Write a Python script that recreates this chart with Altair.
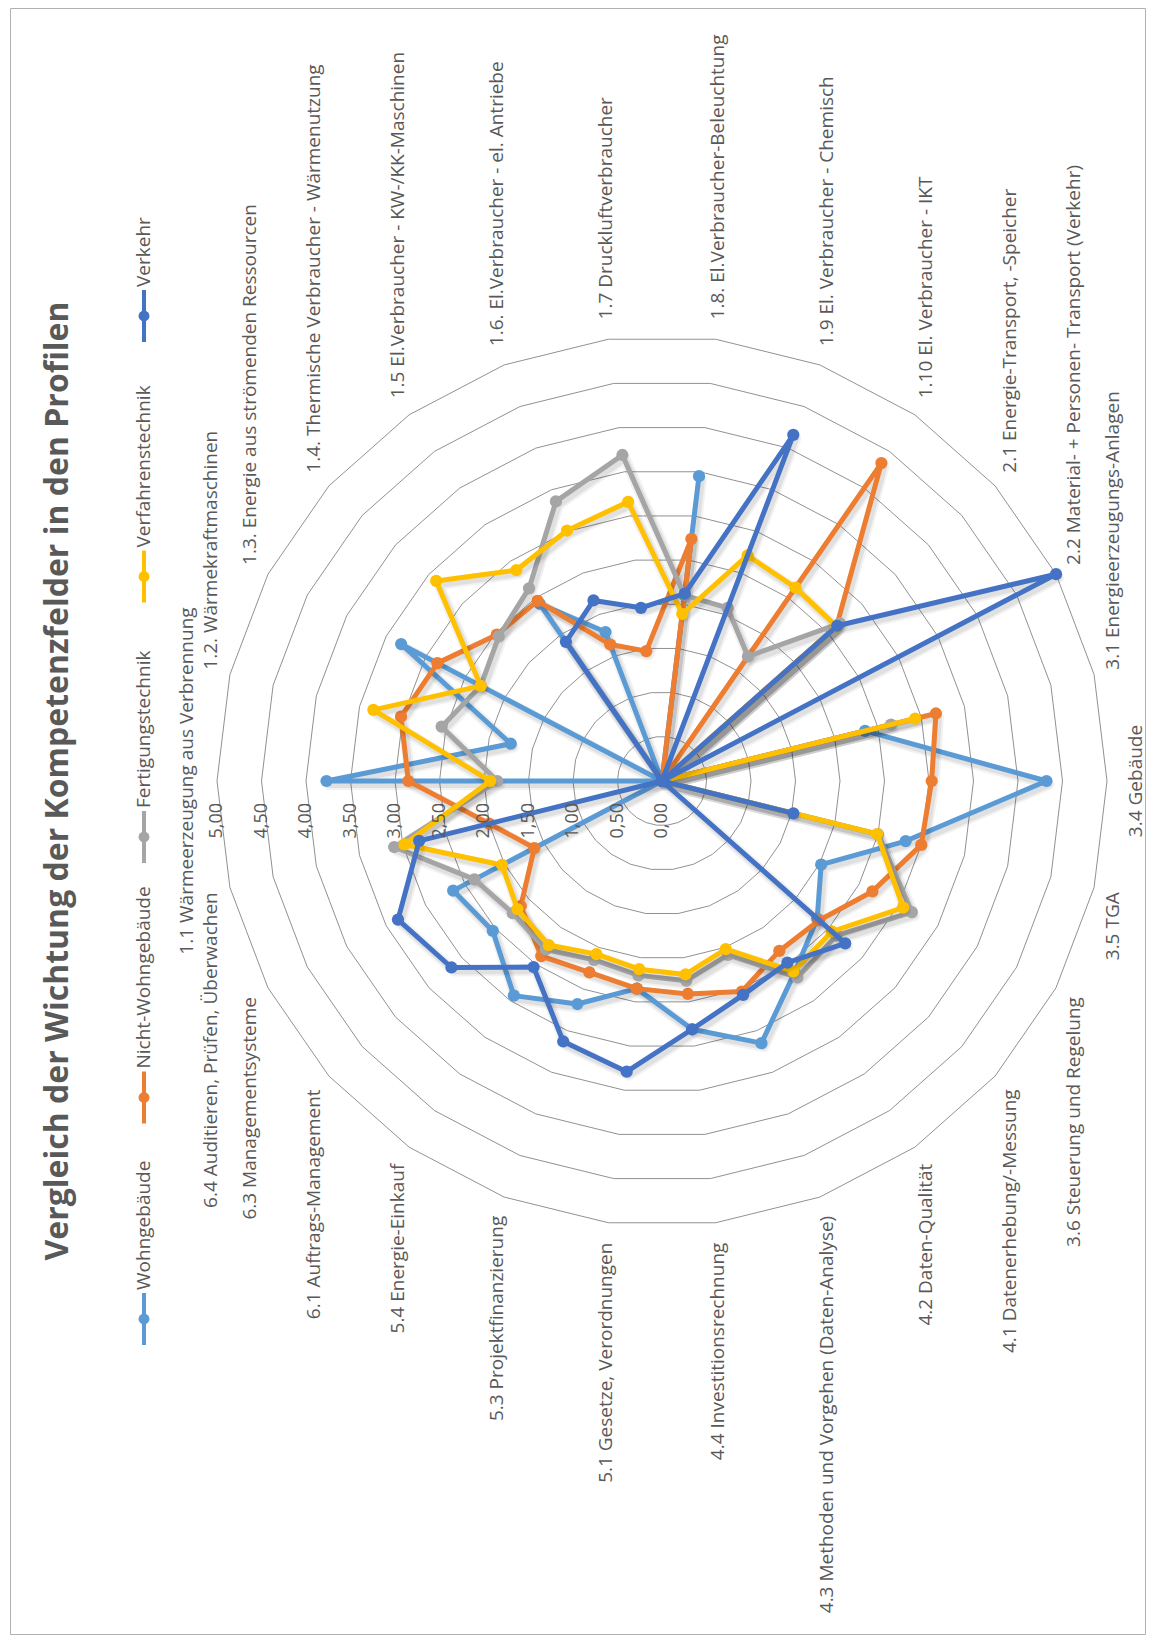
import altair as alt
import pandas as pd

# ---------------- data ----------------
categories = [
    "1.1 Wärmeerzeugung aus Verbrennung",
    "1.2. Wärmekraftmaschinen",
    "1.3. Energie aus strömenden Ressourcen",
    "1.4. Thermische Verbraucher - Wärmenutzung",
    "1.5 El.Verbraucher - KW-/KK-Maschinen",
    "1.6. El.Verbraucher - el. Antriebe",
    "1.7 Druckluftverbraucher",
    "1.8. El.Verbraucher-Beleuchtung",
    "1.9 El. Verbraucher - Chemisch",
    "1.10 El. Verbraucher - IKT",
    "2.1 Energie-Transport, -Speicher",
    "2.2 Material- + Personen- Transport (Verkehr)",
    "3.1 Energieerzeugungs-Anlagen",
    "3.4 Gebäude",
    "3.5 TGA",
    "3.6 Steuerung und Regelung",
    "4.1 Datenerhebung/-Messung",
    "4.2 Daten-Qualität",
    "4.3 Methoden und Vorgehen (Daten-Analyse)",
    "4.4 Investitionsrechnung",
    "5.1 Gesetze, Verordnungen",
    "5.3 Projektfinanzierung",
    "5.4 Energie-Einkauf",
    "6.1 Auftrags-Management",
    "6.3 Managementsysteme",
    "6.4 Auditieren, Prüfen, Überwachen",
]

series_names = ["Wohngebäude", "Nicht-Wohngebäude", "Fertigungstechnik",
                "Verfahrenstechnik", "Verkehr"]
series_colors = ["#5B9BD5", "#ED7D31", "#A5A5A5", "#FFC000", "#4472C4"]

wohngebaeude = [3.77, 1.75, 3.31, 0.00, 2.42, 1.79, 0.00, 3.45, 0.00, 0.00, 0.00, 0.00, 2.35,
                4.32, 2.82, 2.02, 2.33, 2.62, 3.15, 2.81, 2.35, 2.68, 2.93, 2.54, 2.65, 0.00]
nicht_wohngebaeude = [2.85, 3.02, 2.85, 2.48, 2.46, 1.64, 1.47, 2.74, 0.00, 4.34, 2.62, 0.00, 3.17,
                      3.03, 3.00, 2.67, 2.36, 2.32, 2.53, 2.41, 2.35, 2.30, 2.39, 2.12, 1.62, 2.00]
fertigungstechnik = [1.85, 2.55, 2.30, 2.45, 2.63, 3.36, 3.69, 2.10, 2.08, 1.70, 2.67, 0.00, 2.65,
                     0.00, 2.50, 3.17, 2.62, 2.68, 2.09, 2.26, 2.20, 2.15, 2.30, 2.24, 2.38, 3.10]
verfahrenstechnik = [1.93, 3.34, 2.30, 3.39, 2.88, 3.01, 3.16, 1.89, 2.71, 2.64, 2.62, 0.00, 2.93,
                     0.00, 2.49, 3.06, 2.55, 2.60, 2.02, 2.19, 2.13, 2.08, 2.24, 2.17, 2.03, 2.98]
verkehr = [0.00, 0.00, 0.00, 0.00, 1.90, 2.17, 1.96, 2.12, 4.16, 0.00, 2.63, 5.00, 0.00,
           0.00, 1.52, 0.00, 2.75, 2.48, 2.57, 2.81, 3.29, 3.13, 2.54, 3.16, 3.35, 2.81]
series_values = [wohngebaeude, nicht_wohngebaeude, fertigungstechnik, verfahrenstechnik, verkehr]

tick_values = [0.0, 0.5, 1.0, 1.5, 2.0, 2.5, 3.0, 3.5, 4.0, 4.5, 5.0]
tick_labels = ["0,00", "0,50", "1,00", "1,50", "2,00", "2,50", "3,00", "3,50", "4,00", "4,50", "5,00"]

title_text = "Vergleich der Wichtung der Kompetenzfelder in den Profilen"

# ---------------- layout ----------------
PAD = {"left": 10, "top": 8, "right": 10, "bottom": 5}
W, H = 1135, 1626
CX, CY = 662, 781            # page position of the radar centre
PPU = 89.0                   # pixels per value unit
R_MAX = 5.0
N = len(categories)
FONT = "Open Sans"
TXT = "#595959"

x_dom = [(PAD["left"] - CX) / PPU, (PAD["left"] + W - CX) / PPU]
y_dom = [(CY - (PAD["top"] + H)) / PPU, (CY - PAD["top"]) / PPU]
xs = alt.Scale(domain=x_dom, nice=False, zero=False)
ys = alt.Scale(domain=y_dom, nice=False, zero=False)


def X(f):
    return alt.X(f, type="quantitative", scale=xs, axis=None)


def Y(f):
    return alt.Y(f, type="quantitative", scale=ys, axis=None)


ANG = f"datum.cat * 2 * PI / {N}"

# ---------------- grid rings ----------------
ring_rows = [{"level": lv, "k": k, "cat": k % N}
             for lv in tick_values[1:] for k in range(N + 1)]
rings = alt.Chart(pd.DataFrame(ring_rows)).transform_calculate(
    px=f"-datum.level * cos({ANG})", py=f"datum.level * sin({ANG})"
).mark_line(color="#858585", strokeWidth=0.9).encode(
    x=X("px"), y=Y("py"), detail="level:N", order="k:Q"
)

# ---------------- series ----------------
rows = []
for name, vals in zip(series_names, series_values):
    for k in range(N + 1):
        rows.append({"series": name, "k": k, "cat": k % N, "value": vals[k % N]})
df = pd.DataFrame(rows)
base = alt.Chart(df).transform_calculate(
    px=f"-datum.value * cos({ANG})", py=f"datum.value * sin({ANG})"
).transform_calculate(
    sx=f"datum.px + {2.5 / PPU}", sy=f"datum.py - {3.5 / PPU}"
)
series_layers = []
for name, color in zip(series_names, series_colors):
    b = base.transform_filter(alt.datum.series == name)
    # soft drop shadow
    for sw, op in ((11, 0.05), (7, 0.07)):
        series_layers.append(
            b.mark_line(color="black", opacity=op, strokeWidth=sw, strokeJoin="round",
                        strokeCap="round").encode(x=X("sx"), y=Y("sy"), order="k:Q")
        )
    series_layers.append(
        b.mark_line(color=color, strokeWidth=5, strokeJoin="round", strokeCap="round").encode(
            x=X("px"), y=Y("py"), order="k:Q")
    )
    series_layers.append(
        b.transform_filter(f"datum.k < {N}").mark_circle(color=color, size=150, opacity=1).encode(
            x=X("px"), y=Y("py"))
    )

# ---------------- category labels ----------------
cat_df = pd.DataFrame({"cat": list(range(N)), "label": categories})
RL = R_MAX + 20 / PPU
cat_base = alt.Chart(cat_df).transform_calculate(
    s=f"sin({ANG})", c=f"cos({ANG})"
).transform_calculate(
    lx=f"-datum.c * {RL}", ly=f"datum.s * {RL}"
)
lab_style = dict(font=FONT, fontSize=19, color=TXT, angle=270)
cat_up = cat_base.transform_filter("datum.s > 0.001").mark_text(
    align="left", baseline="middle", **lab_style).encode(x=X("lx"), y=Y("ly"), text="label:N")
cat_down = cat_base.transform_filter("datum.s < -0.001").mark_text(
    align="right", baseline="middle", **lab_style).encode(x=X("lx"), y=Y("ly"), text="label:N")
cat_left = cat_base.transform_filter("abs(datum.s) <= 0.001 && datum.c > 0").mark_text(
    align="center", baseline="bottom", **lab_style).encode(x=X("lx"), y=Y("ly"), text="label:N")
cat_right = cat_base.transform_filter("abs(datum.s) <= 0.001 && datum.c < 0").mark_text(
    align="center", baseline="top", **lab_style).encode(x=X("lx"), y=Y("ly"), text="label:N")

# ---------------- value axis labels ----------------
tick_df = pd.DataFrame({"v": tick_values, "lab": tick_labels})
ticks = alt.Chart(tick_df).transform_calculate(
    tx="-datum.v", ty=f"{-22 / PPU}"
).mark_text(align="right", baseline="middle", font=FONT, fontSize=18, color=TXT, angle=270).encode(
    x=X("tx"), y=Y("ty"), text="lab:N")

# ---------------- title ----------------
title = alt.Chart(pd.DataFrame({"t": [title_text]})).mark_text(
    font=FONT, fontSize=32, fontWeight="bold", color=TXT, angle=270,
    align="center", baseline="middle"
).encode(text="t:N", x=alt.value(58 - PAD["left"]), y=alt.value(CY - PAD["top"]))

# ---------------- legend (rotated, built from marks) ----------------
LEG_X = 144
LEG_BOTTOM = 1345
LEG_CHAR = 6.5
LEG_GAP = 150
leg_df = pd.DataFrame({"series": series_names, "idx": list(range(len(series_names)))})
color_enc = alt.Color("series:N", scale=alt.Scale(domain=series_names, range=series_colors), legend=None)
leg_base = alt.Chart(leg_df).transform_calculate(
    tlen=f"length(datum.series) * {LEG_CHAR}"
).transform_window(
    cum="sum(tlen)", sort=[alt.SortField("idx")], frame=[None, 0]
).transform_calculate(
    sym=f"{LEG_BOTTOM} - 26 - datum.idx * {LEG_GAP} - (datum.cum - datum.tlen)"
).transform_calculate(
    lx=f"{(LEG_X - CX) / PPU}",
    ly=f"({CY} - datum.sym) / {PPU}",
    ly1=f"({CY} - datum.sym - 26) / {PPU}",
    ly2=f"({CY} - datum.sym + 26) / {PPU}",
    lt=f"({CY} - datum.sym + 29) / {PPU}",
)
leg_rule = leg_base.mark_rule(strokeWidth=4).encode(x=X("lx"), y=Y("ly1"), y2="ly2:Q", color=color_enc)
leg_pt = leg_base.mark_circle(size=120, opacity=1).encode(x=X("lx"), y=Y("ly"), color=color_enc)
leg_txt = leg_base.mark_text(
    align="left", baseline="middle", font=FONT, fontSize=19, color=TXT, angle=270
).encode(x=X("lx"), y=Y("lt"), text="series:N")

chart = alt.layer(
    rings, *series_layers, cat_up, cat_down, cat_left, cat_right, ticks, title,
    leg_rule, leg_pt, leg_txt
).properties(
    width=W, height=H, padding=PAD, autosize=alt.AutoSizeParams(type="none"),
    background="white"
).configure_view(stroke="#b0b0b0", strokeWidth=1)

chart.save("out.html", embed_options={"renderer": "svg", "actions": False})
